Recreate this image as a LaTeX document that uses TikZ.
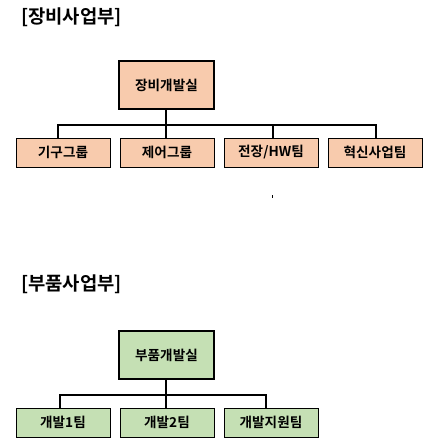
\documentclass[tikz,border=0pt]{standalone}
\usepackage{fontspec}
\setmainfont{Noto Sans CJK KR}[BoldFont={Noto Sans CJK KR Bold}]
\definecolor{peach}{HTML}{F8CBAD}
\definecolor{leaf}{HTML}{C5E0B4}
\begin{document}
\begin{tikzpicture}[x=1pt,y=-1pt,
  headbox/.style={draw=black,line width=2pt,minimum width=95pt,minimum height=48pt,inner sep=0pt,font=\bfseries\fontsize{13.6}{15}\selectfont},
  teambox/.style={draw=black,line width=0.8pt,minimum width=94pt,minimum height=29pt,inner sep=0pt,font=\bfseries\fontsize{13.6}{15}\selectfont},
  title/.style={anchor=west,inner sep=0pt,font=\bfseries\fontsize{18.8}{20}\selectfont},
  link/.style={draw=black,line width=1.6pt}]
\useasboundingbox[fill=white] (0,0) rectangle (431,442);
% top section
\node[title] (t1) at (21,17) {[장비사업부]};
\node[headbox,fill=peach] (h1) at (166.5,85) {장비개발실};
\node[teambox,fill=peach] (a1) at (63,152.5) {기구그룹};
\node[teambox,fill=peach] (a2) at (167,152.5) {제어그룹};
\node[teambox,fill=peach] (a3) at (271,152.5) {전장/HW팀};
\node[teambox,fill=peach] (a4) at (375,152.5) {혁신사업팀};
\coordinate (b1) at (166,125);
\draw[link] (h1.south -| b1) -- (b1);
\draw[link] ([xshift=-5pt]a1.north) -- ([xshift=-5pt]a1.north |- b1) -- ([xshift=1pt]a4.north |- b1) -- ([xshift=1pt]a4.north);
\draw[link] ([xshift=-1pt]a2.north) -- ([xshift=-1pt]a2.north |- b1);
\draw[link] ([xshift=2pt]a3.north) -- ([xshift=2pt]a3.north |- b1);
\coordinate (m1) at (272.5,195);
\draw[line width=0.8pt] (m1) -- ++(0,3);
% bottom section
\node[title] (t2) at (21,284) {[부품사업부]};
\node[headbox,fill=leaf] (h2) at (166.5,355) {부품개발실};
\node[teambox,fill=leaf] (c1) at (63,422.5) {개발1팀};
\node[teambox,fill=leaf] (c2) at (167,422.5) {개발2팀};
\node[teambox,fill=leaf] (c3) at (271,422.5) {개발지원팀};
\coordinate (b2) at (166,395);
\draw[link] (h2.south -| b2) -- (b2);
\draw[link] ([xshift=-3pt]c1.north) -- ([xshift=-3pt]c1.north |- b2) -- ([xshift=-5pt]c3.north |- b2) -- ([xshift=-5pt]c3.north);
\draw[link] ([xshift=-1pt]c2.north) -- ([xshift=-1pt]c2.north |- b2);
\end{tikzpicture}
\end{document}
